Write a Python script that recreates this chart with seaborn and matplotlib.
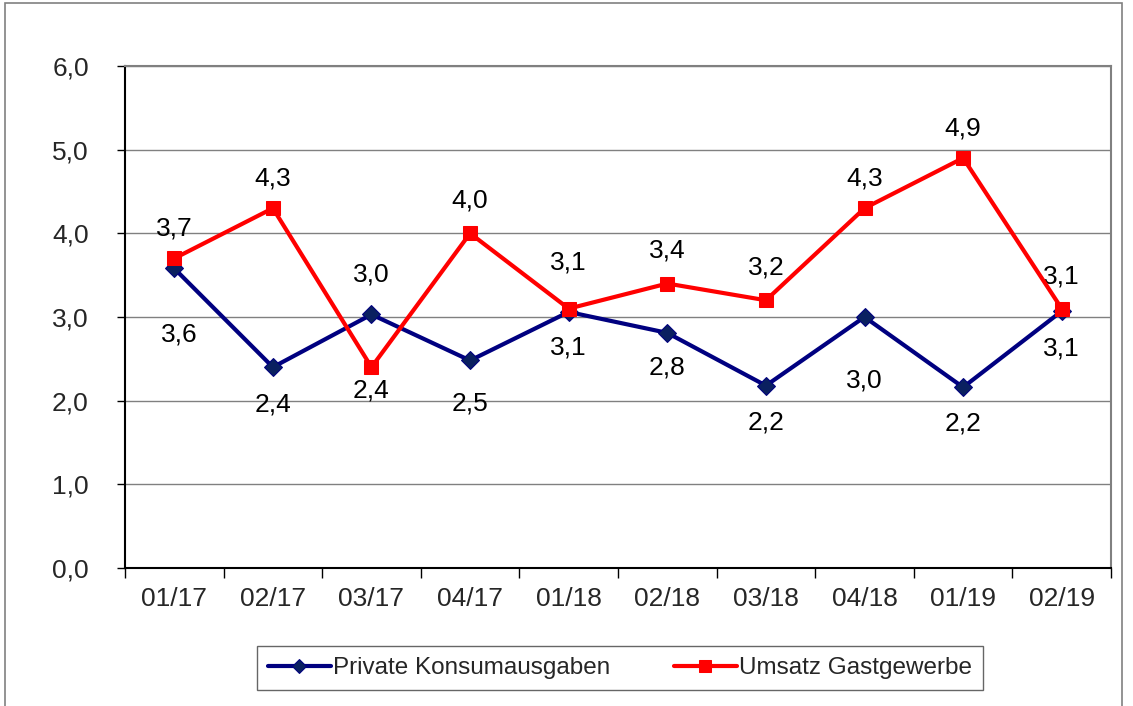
import pandas as pd
import seaborn as sns
import matplotlib.pyplot as plt
import matplotlib.patches as mpatches

# Data
quarters = ['01/17', '02/17', '03/17', '04/17', '01/18', '02/18', '03/18', '04/18', '01/19', '02/19']
konsum = [3.58, 2.40, 3.03, 2.48, 3.06, 2.81, 2.18, 3.00, 2.16, 3.07]
konsum_labels = ['3,6', '2,4', '3,0', '2,5', '3,1', '2,8', '2,2', '3,0', '2,2', '3,1']
gastro = [3.7, 4.3, 2.4, 4.0, 3.1, 3.4, 3.2, 4.3, 4.9, 3.1]
gastro_labels = ['3,7', '4,3', '2,4', '4,0', '3,1', '3,4', '3,2', '4,3', '4,9', '3,1']
y_ticks = [0, 1, 2, 3, 4, 5, 6]
y_tick_labels = ['0,0', '1,0', '2,0', '3,0', '4,0', '5,0', '6,0']

# label offsets in pixels (dx, dy), as placed in the original
konsum_off = [(5, -66), (0, -37), (0, 40), (0, -43), (0, -36), (0, -35), (0, -37), (0, -64), (0, -36), (0, -37)]
gastro_off = [(0, 30), (0, 30), (0, -23), (0, 33), (0, 46), (0, 33), (0, 33), (0, 30), (0, 30), (0, 32)]

sns.set_theme(style="white")
plt.rcParams['font.family'] = ['Liberation Sans', 'DejaVu Sans']

df = pd.DataFrame({'pos': range(len(quarters)), 'konsum': konsum, 'gastro': gastro})

fig = plt.figure(figsize=(11.33, 7.06), dpi=100)
ax = fig.add_axes([0.1103, 0.1955, 0.8703, 0.711])

navy = '#000080'
red = '#FF0000'

sns.lineplot(data=df, x='pos', y='konsum', ax=ax, color=navy, linewidth=3,
             marker='D', markersize=9, markerfacecolor='#0a2060', markeredgecolor=navy,
             label='Private Konsumausgaben', zorder=3)
sns.lineplot(data=df, x='pos', y='gastro', ax=ax, color=red, linewidth=3,
             marker='s', markersize=10, markerfacecolor=red, markeredgecolor=red,
             label='Umsatz Gastgewerbe', zorder=4)

for i in range(len(quarters)):
    ax.annotate(konsum_labels[i], (i, konsum[i]), xytext=konsum_off[i],
                textcoords='offset pixels', ha='center', va='center', fontsize=19, color='black')
    ax.annotate(gastro_labels[i], (i, gastro[i]), xytext=gastro_off[i],
                textcoords='offset pixels', ha='center', va='center', fontsize=19, color='black')

ax.set_xlim(-0.5, len(quarters) - 0.5)
ax.set_ylim(0, 6)
ax.set_yticks(y_ticks)
ax.set_yticklabels(y_tick_labels, fontsize=19)
ax.yaxis.grid(True, color='#808080', linewidth=1)
ax.set_axisbelow(True)

# category labels centred, tick marks between categories
ax.set_xticks([i - 0.5 for i in range(len(quarters) + 1)])
ax.set_xticklabels([])
ax.set_xticks(range(len(quarters)), minor=True)
ax.set_xticklabels(quarters, minor=True, fontsize=19)
ax.tick_params(axis='x', which='minor', length=0, pad=14)
ax.tick_params(axis='x', which='major', direction='out', length=7, width=1, color='black', bottom=True)
ax.tick_params(axis='y', direction='out', length=6, width=1, color='black', left=True, pad=20)
ax.set_xlabel('')
ax.set_ylabel('')

for loc, sp in ax.spines.items():
    sp.set_visible(True)
    if loc in ['left', 'bottom']:
        sp.set_color('black')
        sp.set_linewidth(1.5)
    else:
        sp.set_color('#808080')
        sp.set_linewidth(1.5)

leg = ax.legend(loc='center', bbox_to_anchor=(620 / 1133, 1 - 668 / 706), bbox_transform=fig.transFigure,
                ncol=2, fontsize=17.5, frameon=True, fancybox=False, edgecolor='#404040',
                handlelength=2.6, columnspacing=2.6, borderpad=0.45, handletextpad=0.1,
                markerscale=0.8)
leg.get_frame().set_linewidth(1)

# outer chart border
fig.patches.append(mpatches.Rectangle((5 / 1133, -0.01), 1117 / 1133, 1 - 3 / 706 + 0.01,
                                      transform=fig.transFigure, fill=False,
                                      edgecolor='#808080', linewidth=1.2))

fig.savefig('out.png', dpi=100)
